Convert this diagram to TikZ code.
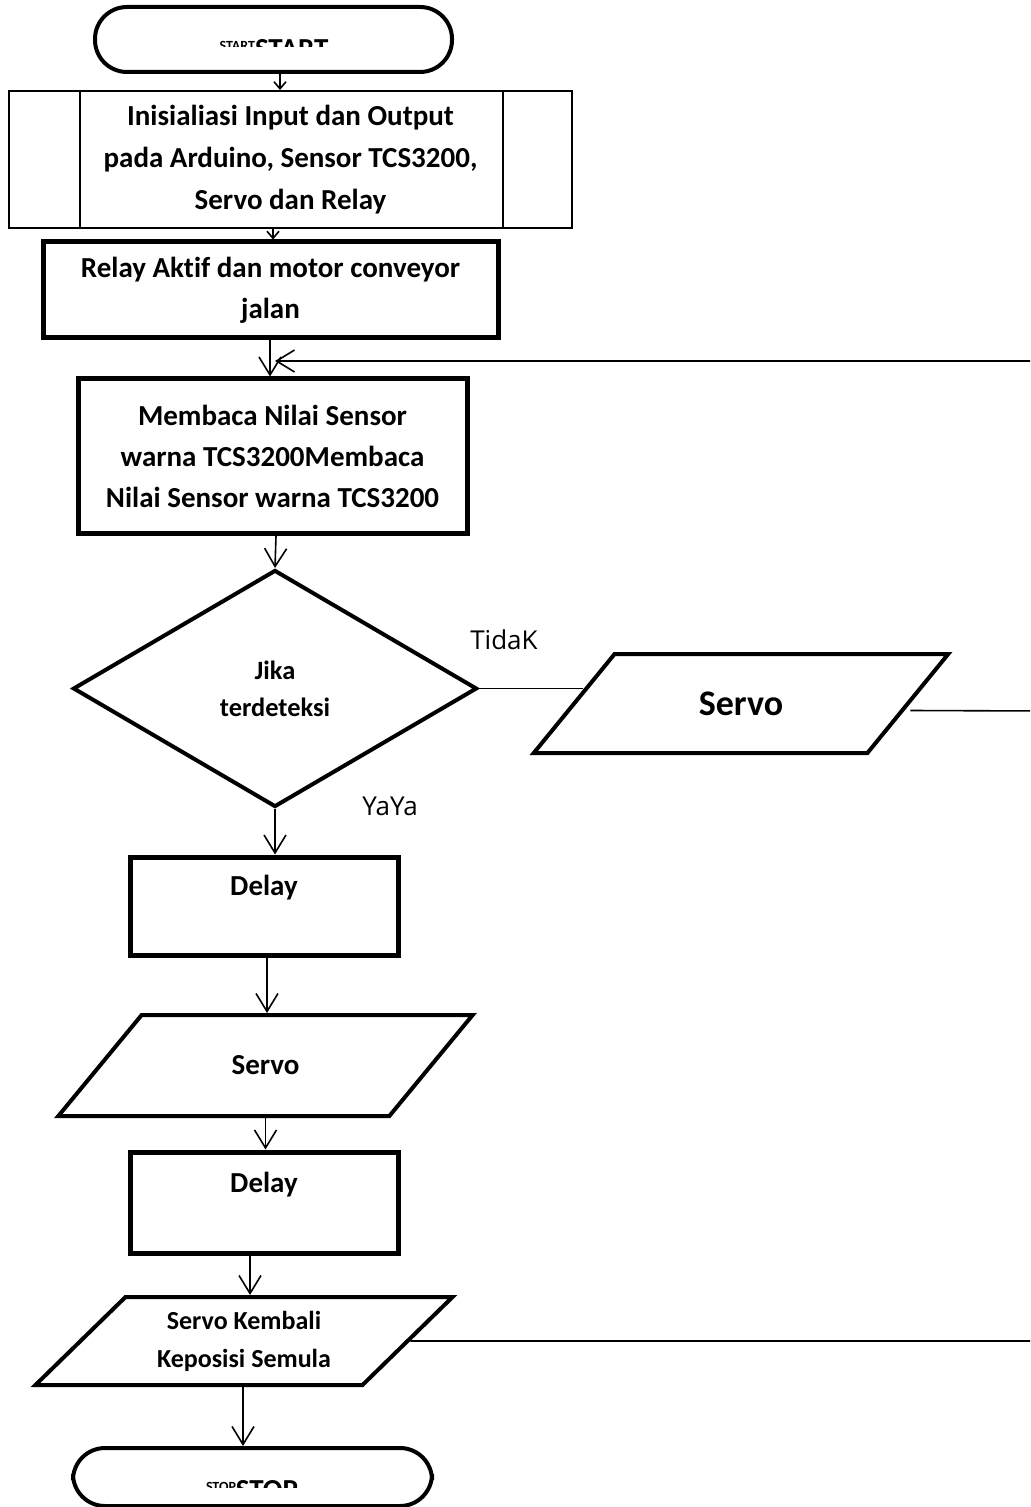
\documentclass[tikz,border=0pt]{standalone}
\usepackage{fontspec}
\setmainfont{Carlito}[RawFeature={-liga;-clig;-dlig;-calt}]
\newfontfamily\labelfont{Open Sans}
\usetikzlibrary{shapes.geometric, arrows.meta}
\tikzstyle{startstop} = [
    rectangle,
    rounded corners=16pt,
    minimum width=178.5pt,
    minimum height=32.5pt,
    line width=2pt,
    draw=black
]
\tikzstyle{predefined} = [
    rectangle,
    minimum width=281.5pt,
    minimum height=68.5pt,
    line width=1pt,
    draw=black,
    align=center,
    font=\bfseries\fontsize{14.5}{21}\selectfont
]
\tikzstyle{process} = [
    rectangle,
    line width=2.5pt,
    draw=black,
    align=center,
    font=\bfseries\fontsize{14.5}{20.5}\selectfont
]
\tikzstyle{inputoutput} = [
    trapezium,
    trapezium left angle=50,
    trapezium right angle=130,
    trapezium stretches=true,
    line width=2pt,
    draw=black,
    align=center,
    font=\bfseries\fontsize{14.5}{20.5}\selectfont
]
\tikzstyle{decision} = [
    diamond,
    minimum width=202pt,
    minimum height=118.5pt,
    inner sep=0pt,
    line width=2pt,
    draw=black,
    align=center,
    font=\bfseries\fontsize{13.2}{18.5}\selectfont
]
\tikzstyle{label} = [font=\labelfont\fontsize{13}{15}\selectfont]
\tikzstyle{line} = [line width=0.8pt]
\tikzstyle{arrow} = [line width=0.8pt,-{Straight Barb[length=9pt,width=11pt]}]
\tikzstyle{smallarrow} = [line width=0.8pt,-{Straight Barb[length=3.5pt,width=6pt]}]

\begin{document}
\begin{tikzpicture}[x=0.5pt,y=-0.5pt]

\useasboundingbox (0,0) rectangle (1030,1507);
\clip (0,0) rectangle (1030,1507);

\node (start) [startstop] at (273.5,39.5) {};
\begin{scope}
\clip (95,0) rectangle (452,47);
\node (starttext) [anchor=base, font=\bfseries\fontsize{14.5}{17}\selectfont] at (274,59)
{\raisebox{4pt}{\fontsize{7}{8}\selectfont START}START};
\end{scope}

\node (init) [predefined] at (290.5,159.5)
{Inisialiasi Input dan Output\\pada Arduino, Sensor TCS3200,\\Servo dan Relay};
\draw [line width=1pt] (init.north -| 80,0) -- (init.south -| 80,0);
\draw [line width=1pt] (init.north -| 503,0) -- (init.south -| 503,0);

\node (relay) [process, minimum width=227.5pt, minimum height=48pt] at (270.5,290)
{Relay Aktif dan motor conveyor\\jalan};

\node (baca) [process, minimum width=194.5pt, minimum height=77pt] at (272.5,456)
{Membaca Nilai Sensor\\warna TCS3200Membaca\\Nilai Sensor warna TCS3200};

\node (cek) [decision] at (275,688.5) {Jika\\terdeteksi};

\node (servo1) [inputoutput, minimum width=209pt, minimum height=49.5pt,
  font=\bfseries\fontsize{18}{22}\selectfont] at (741,703.5) {Servo};

\node (tidak) [label] at (504,640) {TidaK};
\node (ya) [label] at (390,806) {YaYa};

\node (delay1) [process, minimum width=134pt, minimum height=49pt] at (264,906)
{Delay\\\mbox{}};

\node (servo2) [inputoutput, minimum width=207.5pt, minimum height=50.5pt] at (265.5,1065.5)
{Servo};

\node (delay2) [process, minimum width=134pt, minimum height=50.5pt] at (264,1202.5)
{Delay\\\mbox{}};

\node (kembali) [inputoutput, trapezium left angle=46, trapezium right angle=134,
  minimum width=209pt, minimum height=44pt,
  font=\bfseries\fontsize{13}{19}\selectfont] at (244,1341)
{Servo Kembali\\Keposisi Semula};

\node (stop) [startstop, minimum width=179.5pt, minimum height=29pt] at (252.5,1477) {};
\begin{scope}
\clip (73,1400) rectangle (432,1487);
\node (stoptext) [anchor=base, font=\bfseries\fontsize{14.5}{17}\selectfont] at (252,1499)
{\raisebox{4pt}{\fontsize{7}{8}\selectfont STOP}STOP};
\end{scope}

\coordinate (rtop) at (1045,361);
\coordinate (rmid) at (1045,711);
\coordinate (rbot) at (1045,1341);
\coordinate (join) at (275,361);

\draw [smallarrow] (start.south -| 280,0) -- (init.north -| 280,0);
\draw [smallarrow] (init.south -| 273,0) -- (relay.north -| 273,0);
\draw [arrow] (relay.south -| 270,0) -- (baca.north -| 270,0);
\draw [arrow] (baca.south -| 276,0) -- (cek.north);
\draw [arrow] (cek.south) -- (delay1.north -| cek.south);
\draw [arrow] (delay1.south -| 267,0) -- (servo2.north -| 267,0);
\draw [arrow] (servo2.south) -- (delay2.north -| servo2.south);
\draw [arrow] (delay2.south -| 250,0) -- (kembali.north -| 250,0);
\draw [arrow] (kembali.south -| 243,0) -- (stop.north -| 243,0);
\draw [line] (cek.east) -- ([xshift=5.5pt]servo1.west |- cek.east);
\draw [line] ([yshift=-3.5pt]servo1.east) -- (rmid);
\draw [line] (kembali.east) -- (rbot) -- (rtop);
\draw [arrow] (rtop) -- (join);

\end{tikzpicture}
\end{document}
